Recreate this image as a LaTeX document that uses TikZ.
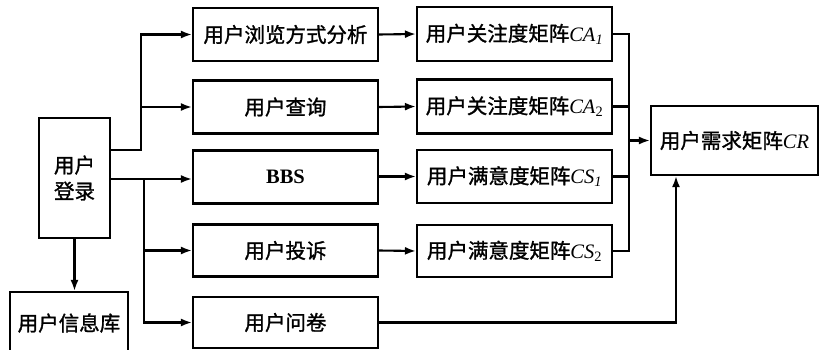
\documentclass[tikz,border=0pt]{standalone}
\usepackage{fontspec}
\setmainfont{Liberation Serif}
\newfontfamily\cjk{Noto Sans CJK SC}[FakeBold=1.3]
\usetikzlibrary{arrows.meta}
\begin{document}
\begin{tikzpicture}[x=1pt,y=-1pt,
  box/.style={draw,line width=2.1pt,inner sep=0pt,font=\fontsize{20.5pt}{24pt}\selectfont\cjk},
  arr/.style={line width=2.1pt,-{Latex[length=11pt,width=8pt]}},
  ln/.style={line width=2.1pt}]
\clip (0,0) rectangle (827,350);
\useasboundingbox (0,0) rectangle (827,350);
% login
\node[box,minimum width=71pt,minimum height=120pt,align=center] (login) at (74.5,178) {用户\\[2pt]登录};
\node[box,minimum width=118pt,minimum height=62pt] (db) at (69,323) {用户信息库};
% column 2
\node[box,minimum width=185pt,minimum height=53pt] (b1) at (285.5,34.5) {用户浏览方式分析};
\node[box,minimum width=185pt,minimum height=53pt] (b2) at (285.5,107) {用户查询};
\node[box,minimum width=185pt,minimum height=53pt] (b3) at (285.5,177) {\rmfamily\bfseries BBS};
\node[box,minimum width=185pt,minimum height=52pt] (b4) at (285.5,250.5) {用户投诉};
\node[box,minimum width=185pt,minimum height=51pt] (b5) at (285.5,322.5) {用户问卷};
% column 3
\node[box,minimum width=195pt,minimum height=54pt] (c1) at (514.5,34) {用户关注度矩阵{\rmfamily\itshape CA\textsubscript{1}}};
\node[box,minimum width=195pt,minimum height=54pt] (c2) at (514.5,106.5) {用户关注度矩阵{\rmfamily\itshape CA\textsubscript{\upshape 2}}};
\node[box,minimum width=195pt,minimum height=53pt] (c3) at (514.5,176.5) {用户满意度矩阵{\rmfamily\itshape CS\textsubscript{1}}};
\node[box,minimum width=195pt,minimum height=52pt] (c4) at (514.5,251) {用户满意度矩阵{\rmfamily\itshape CS\textsubscript{\upshape 2}}};
% result
\node[box,minimum width=167pt,minimum height=69pt] (cr) at (734.5,140.5) {用户需求矩阵{\rmfamily\itshape CR}};
% junction coordinates
\coordinate (lo1) at (110,150);
\coordinate (j1) at (141,150);
\coordinate (lo2) at (110,179);
\coordinate (j2) at (144,179);
\coordinate (mx) at (629,34);
\coordinate (bx) at (676,322);
% login to column 2
\draw[arr] (lo1) -- (j1) |- (b1.west);
\draw[arr] (j1 |- b2.west) -- (b2.west);
\draw[arr] (lo2) -- (lo2 -| b3.west);
\draw[arr] (j2) |- (b5.west);
\draw[arr] (j2 |- b4.west) -- (b4.west);
\draw[arr] (login.south) -- (login.south |- db.north);
% column 2 to column 3
\draw[arr] (b1.east) -- (c1.west);
\draw[arr] (b2.east) -- (c2.west);
\draw[arr] (b3.east |- c3.west) -- (c3.west);
\draw[arr] (b4.east) -- (c4.west);
% merge
\draw[ln] (c1.east) -- (c1.east -| mx) -- (c4.east -| mx) -- (c4.east);
\draw[ln] (c2.east) -- (c2.east -| mx);
\draw[ln] (c3.east) -- (c3.east -| mx);
\draw[arr] (mx |- cr.west) -- (cr.west);
\draw[arr] (b5.east) -| (bx |- cr.south);
\end{tikzpicture}
\end{document}
